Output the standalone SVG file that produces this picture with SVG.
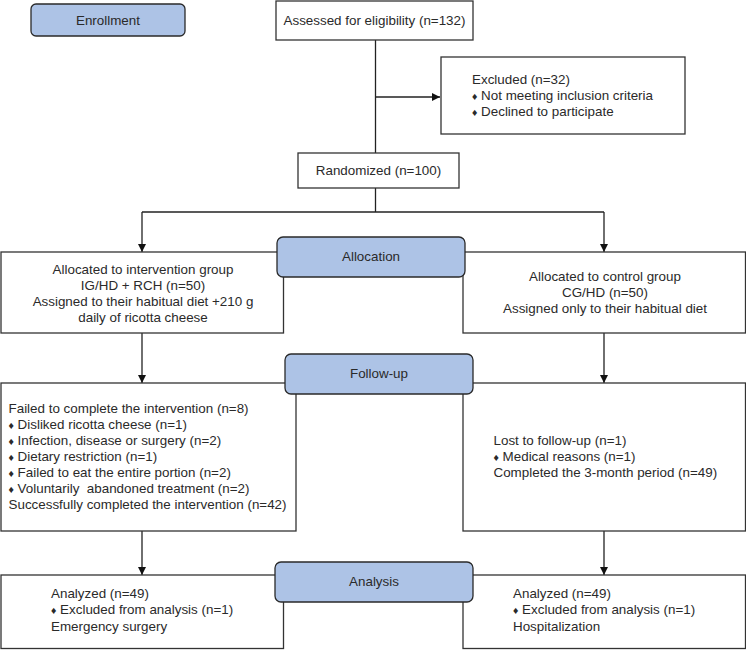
<svg xmlns="http://www.w3.org/2000/svg" width="746" height="650" viewBox="0 0 746 650">
<style>
text{font-family:"Liberation Sans",Arial,sans-serif;font-size:13.4px;fill:#2a2a2a}
.box{fill:#fff;stroke:#333;stroke-width:1.3}
.pill{fill:#adc3e6;stroke:#2a2a2a;stroke-width:1.3}
.c{text-anchor:middle}
.ln{fill:none;stroke:#222;stroke-width:1.3}
.d{font-size:10.5px}
</style>
<defs>
<marker id="ah" viewBox="0 0 10 10" refX="10" refY="5" markerWidth="8" markerHeight="8" markerUnits="userSpaceOnUse" orient="auto">
<path d="M0,0L10,5L0,10z" fill="#111"/>
</marker>
</defs>
<g id="connectors">
<path class="ln" d="M375.5,40V153"/>
<path class="ln" d="M375.5,97H440" marker-end="url(#ah)"/>
<path class="ln" d="M375.5,188V212"/>
<path class="ln" d="M142,212H604"/>
<path class="ln" d="M142,212V252" marker-end="url(#ah)"/>
<path class="ln" d="M604,212V252" marker-end="url(#ah)"/>
<path class="ln" d="M142,333V383" marker-end="url(#ah)"/>
<path class="ln" d="M604,333V383" marker-end="url(#ah)"/>
<path class="ln" d="M142,531V575" marker-end="url(#ah)"/>
<path class="ln" d="M604,531V575" marker-end="url(#ah)"/>
</g>
<g id="enrollment">
<rect class="pill" x="31" y="4" width="154" height="32" rx="5"/>
<text class="c" x="108" y="24.5">Enrollment</text>
</g>
<g id="assessed">
<rect class="box" x="276" y="1" width="197" height="39"/>
<text class="c" x="374.5" y="24.5">Assessed for eligibility (n=132)</text>
</g>
<g id="excluded">
<rect class="box" x="441" y="57" width="244" height="77"/>
<text x="472" y="84">Excluded (n=32)</text>
<text x="472" y="100"><tspan class="d">♦</tspan> Not meeting inclusion criteria</text>
<text x="472" y="116"><tspan class="d">♦</tspan> Declined to participate</text>
</g>
<g id="randomized">
<rect class="box" x="298" y="153" width="161" height="35"/>
<text class="c" x="378.5" y="174.5">Randomized (n=100)</text>
</g>
<g id="alloc-intervention">
<rect class="box" x="1" y="252" width="282.5" height="81"/>
<text class="c" x="143" y="274">Allocated to intervention group</text>
<text class="c" x="143" y="290">IG/HD + RCH (n=50)</text>
<text class="c" x="143" y="306">Assigned to their habitual diet +210 g</text>
<text class="c" x="143" y="322">daily of ricotta cheese</text>
</g>
<g id="alloc-control">
<rect class="box" x="463" y="252" width="282.5" height="81"/>
<text class="c" x="605" y="281">Allocated to control group</text>
<text class="c" x="605" y="297">CG/HD (n=50)</text>
<text class="c" x="605" y="313">Assigned only to their habitual diet</text>
</g>
<g id="allocation">
<rect class="pill" x="277" y="237" width="188" height="40" rx="6"/>
<text class="c" x="371" y="261">Allocation</text>
</g>
<g id="followup-intervention">
<rect class="box" x="1" y="383" width="295" height="148"/>
<text x="8.5" y="413">Failed to complete the intervention (n=8)</text>
<text x="8.5" y="429"><tspan class="d">♦</tspan> Disliked ricotta cheese (n=1)</text>
<text x="8.5" y="445"><tspan class="d">♦</tspan> Infection, disease or surgery (n=2)</text>
<text x="8.5" y="461"><tspan class="d">♦</tspan> Dietary restriction (n=1)</text>
<text x="8.5" y="477"><tspan class="d">♦</tspan> Failed to eat the entire portion (n=2)</text>
<text x="8.5" y="493" xml:space="preserve"><tspan class="d">♦</tspan> Voluntarily  abandoned treatment (n=2)</text>
<text x="8.5" y="509">Successfully completed the intervention (n=42)</text>
</g>
<g id="followup-control">
<rect class="box" x="463" y="383" width="282.5" height="148"/>
<text x="493.5" y="445">Lost to follow-up (n=1)</text>
<text x="493.5" y="461"><tspan class="d">♦</tspan> Medical reasons (n=1)</text>
<text x="493.5" y="477">Completed the 3-month period (n=49)</text>
</g>
<g id="followup">
<rect class="pill" x="285" y="354" width="188" height="40" rx="6"/>
<text class="c" x="379" y="378">Follow-up</text>
</g>
<g id="analysis-intervention">
<rect class="box" x="1" y="575" width="282.5" height="73.5"/>
<text x="51" y="597.5">Analyzed (n=49)</text>
<text x="51" y="614"><tspan class="d">♦</tspan> Excluded from analysis (n=1)</text>
<text x="51" y="630.5">Emergency surgery</text>
</g>
<g id="analysis-control">
<rect class="box" x="463" y="575" width="282.5" height="73.5"/>
<text x="513" y="597.5">Analyzed (n=49)</text>
<text x="513" y="614"><tspan class="d">♦</tspan> Excluded from analysis (n=1)</text>
<text x="513" y="630.5">Hospitalization</text>
</g>
<g id="analysis">
<rect class="pill" x="275" y="562" width="198" height="40" rx="6"/>
<text class="c" x="374" y="585.5">Analysis</text>
</g>
</svg>
